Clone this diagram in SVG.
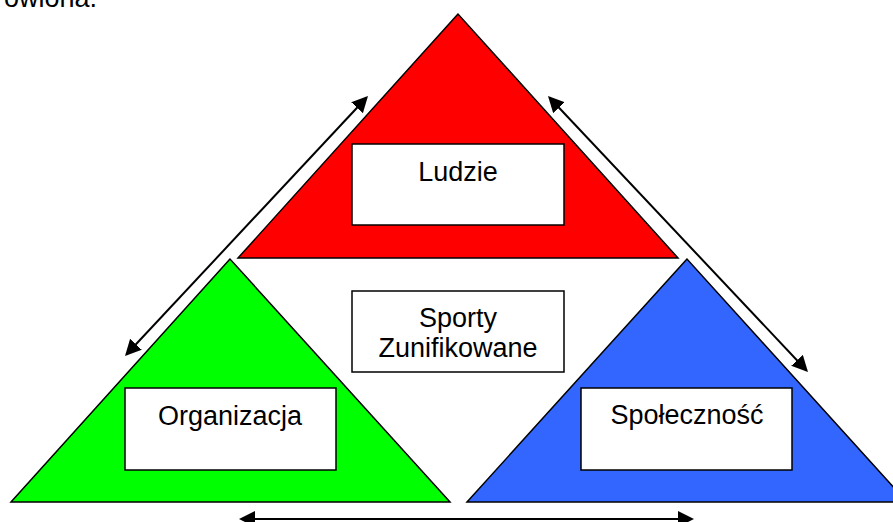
<svg xmlns="http://www.w3.org/2000/svg" width="893" height="522" viewBox="0 0 893 522">
<defs>
<marker id="ah" markerUnits="userSpaceOnUse" markerWidth="18" markerHeight="18" refX="14" refY="8" orient="auto-start-reverse">
<path d="M0,0 L16,8 L0,16 Z" fill="#000"/>
</marker>
<style>
.tri{stroke:#000;stroke-width:1.5;stroke-linejoin:miter}
.box{fill:#fff;stroke:#000;stroke-width:1.5}
.lbl{font-family:"Liberation Sans",Arial,sans-serif;font-size:27px;fill:#000;text-anchor:middle}
.con{stroke:#000;stroke-width:2;fill:none;marker-start:url(#ah);marker-end:url(#ah)}
</style>
</defs>
<rect width="893" height="522" fill="#fff"/>
<text x="4" y="7" style="font-family:'Liberation Sans',Arial,sans-serif;font-size:27px">owiona.</text>
<g id="ludzie">
<polygon class="tri" points="458,14 238,258 678,258" fill="#FF0000"/>
<rect class="box" x="352" y="144" width="212" height="81"/>
<text class="lbl" x="458" y="181">Ludzie</text>
</g>
<g id="organizacja">
<polygon class="tri" points="230,259 11,502 450,502" fill="#00FF00"/>
<rect class="box" x="125" y="388" width="211" height="82"/>
<text class="lbl" x="230" y="425">Organizacja</text>
</g>
<g id="spolecznosc">
<polygon class="tri" points="687,259 467,502 907,502" fill="#3366FF"/>
<rect class="box" x="581" y="388" width="211" height="82"/>
<text class="lbl" x="687" y="424">Społeczność</text>
</g>
<g id="sporty">
<rect class="box" x="352" y="291" width="212" height="81"/>
<text class="lbl" x="458" y="327">Sporty</text>
<text class="lbl" x="458" y="357">Zunifikowane</text>
</g>
<g id="connectors">
<path class="con" d="M366.6,97.5 L126.4,354.5"/>
<path class="con" d="M549.4,97.5 L806.6,370.5"/>
<path class="con" d="M241,519 L692,519"/>
</g>
</svg>
